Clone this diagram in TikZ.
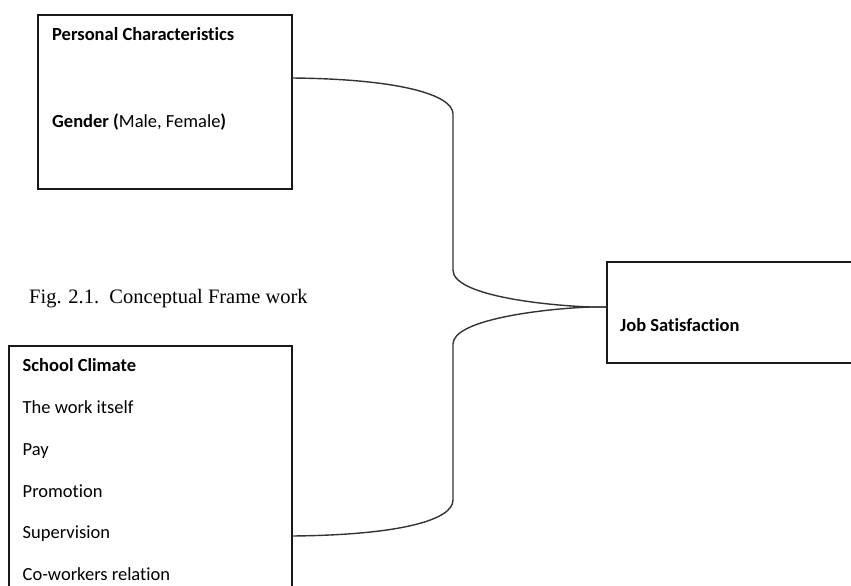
\documentclass[tikz,border=0pt]{standalone}
\usepackage{fontspec}
\setmainfont{Carlito}[Ligatures=NoCommon]
\newfontfamily\figfont{Liberation Serif}
\begin{document}
\begin{tikzpicture}[x=1pt,y=-1pt,
  box/.style={draw=black!90, line width=1.3pt, inner sep=0pt, outer sep=0pt, anchor=north west},
  txt/.style={anchor=base west, inner sep=0pt, font=\fontsize{18.5}{20}\selectfont},
  conn/.style={draw=black!80, line width=1.4pt}]
\useasboundingbox (0,0) rectangle (851,586);
\clip (0,0) rectangle (851,586);
% boxes
\node[box, minimum width=254pt, minimum height=174pt] (pc) at (38,15) {};
\node[box, minimum width=283pt, minimum height=280pt] (sc) at (9,346) {};
\node[box, minimum width=270pt, minimum height=101pt] (js) at (607,262) {};
% texts
\node[txt] (t1) at (52,41) {\bfseries Personal Characteristics};
\node[txt] (t2) at (52,127) {\textbf{Gender (}Male, Female\textbf{)}};
\node[txt] (s1) at (22.5,371) {\bfseries School Climate};
\node[txt] (s2) at (22.5,413) {The work itself};
\node[txt] (s3) at (22.5,455) {Pay};
\node[txt] (s4) at (22.5,497) {Promotion};
\node[txt] (s5) at (22.5,538) {Supervision};
\node[txt] (s6) at (22.5,580) {Co-workers relation};
\node[txt] (j1) at (620,331) {\bfseries Job Satisfaction};
\node[anchor=base west, inner sep=0pt, font=\figfont\fontsize{20.5}{22}\selectfont] (fig) at (29,303) {Fig. 2.1.\ \ Conceptual Frame work};
% connectors
\draw[conn] ([yshift=-63pt]pc.north east) .. controls (400,79) and (453,95) .. (453,114)
  -- (453,270) .. controls (453,295) and (540,305) .. (590,307) -- ([yshift=-45pt]js.north west);
\draw[conn] ([yshift=-190pt]sc.north east) .. controls (400,535) and (453,520) .. (453,500)
  -- (453,344) .. controls (453,320) and (540,309) .. (590,307) -- ([yshift=-45pt]js.north west);
\end{tikzpicture}
\end{document}
